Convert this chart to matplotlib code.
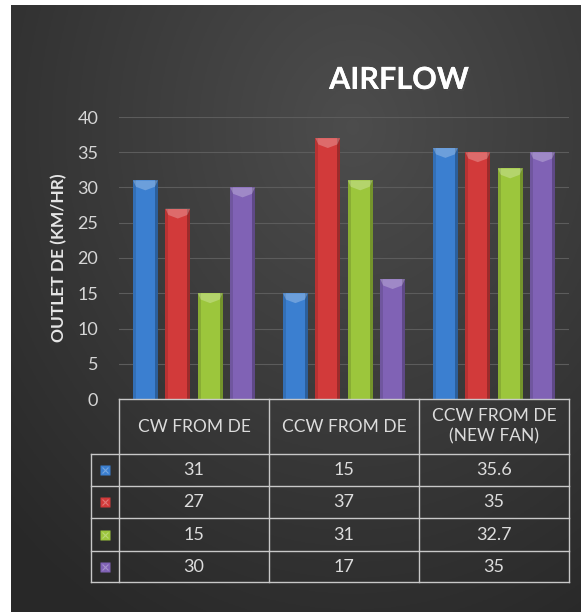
import numpy as np
import matplotlib
matplotlib.use("Agg")
import matplotlib.pyplot as plt
from matplotlib.patches import Polygon
from matplotlib.lines import Line2D
import matplotlib.patheffects as pe

categories = ["CW FROM DE", "CCW FROM DE", "CCW FROM DE\n(NEW FAN)"]
series_values = [
    [31, 15, 35.6],
    [27, 37, 35],
    [15, 31, 32.7],
    [30, 17, 35],
]
cell_text = [
    ["31", "15", "35.6"],
    ["27", "37", "35"],
    ["15", "31", "32.7"],
    ["30", "17", "35"],
]
colors = ["#3b7fd0", "#d23a3a", "#9cc63c", "#8062b5"]
yticks = [0, 5, 10, 15, 20, 25, 30, 35, 40]

W, H = 581, 612
plt.rcParams['font.family'] = ['Lato', 'DejaVu Sans']
fig = plt.figure(figsize=(W / 100, H / 100), dpi=100, facecolor='white')


def fx(px):
    return px / W


def fy(py):
    return 1 - py / H


# dark radial background panel
bg = fig.add_axes([fx(11), 0, 1 - fx(11), 1 - 5 / H])
gx, gy = np.meshgrid(np.linspace(0, 1, 300), np.linspace(0, 1, 300))
r = np.sqrt(((gx - 0.6) / 0.9) ** 2 + ((gy - 0.2) / 1.0) ** 2)
shade = np.clip(0.30 - 0.15 * r, 0.16, 0.30)
bg.imshow(np.dstack([shade, shade, shade]), aspect='auto', extent=(0, 1, 1, 0))
bg.set_axis_off()

# plot area: x 119..569, y 117 (40) .. 399 (0)
ax = fig.add_axes([fx(119), fy(399), fx(569 - 119), (399 - 117) / H])
ax.set_facecolor('none')
ax.set_xlim(0, 3)
ax.set_ylim(0, 40)
for s in ax.spines.values():
    s.set_visible(False)
ax.set_yticks(yticks)
ax.set_yticklabels([str(t) for t in yticks], color='#d6d6d6', fontsize=13)
ax.tick_params(axis='y', length=0, pad=15)
ax.set_xticks([])
ax.grid(axis='y', color='#5c5c5c', lw=0.8)
ax.set_axisbelow(True)

step = 0.216
width = 0.165
for i, vals in enumerate(series_values):
    for j, v in enumerate(vals):
        xc = j + 0.5 + (i - 1.5) * step
        x0, x1 = xc - width / 2, xc + width / 2
        ax.bar(xc, v, width=width, color=colors[i], edgecolor='none', zorder=3)
        # bevel edges
        ax.bar(x0 + width * 0.06, v, width=width * 0.12, color='black', alpha=0.12, zorder=4)
        ax.bar(x1 - width * 0.06, v, width=width * 0.12, color='black', alpha=0.25, zorder=4)
        cap = Polygon([(x0, v), (x1, v), (x1 - width * 0.12, v - 0.9),
                       (xc, v - 1.4), (x0 + width * 0.12, v - 0.9)],
                      closed=True, facecolor='white', alpha=0.25, edgecolor='none', zorder=5)
        ax.add_patch(cap)

ax.set_ylabel("OUTLET DE (KM/HR)", color='#e6e6e6', fontsize=12.5, fontweight='bold', labelpad=7)

fig.text(fx(399), fy(80), "AIRFLOW", ha='center', va='center', color='white',
         fontsize=22, fontweight='bold',
         path_effects=[pe.withSimplePatchShadow(offset=(1.5, -1.5), alpha=0.6), pe.Normal()])

# data table below axis
col_x = [119, 269, 419, 569]
row_y = [399, 454, 486, 518, 551, 582]
lc = '#c8c8c8'
lw = 1.0


def hline(y, xa, xb):
    fig.add_artist(Line2D([fx(xa), fx(xb)], [fy(y), fy(y)], color=lc, lw=lw))


def vline(x, ya, yb):
    fig.add_artist(Line2D([fx(x), fx(x)], [fy(ya), fy(yb)], color=lc, lw=lw))


hline(row_y[0], col_x[0], col_x[-1])
for y in row_y[1:]:
    hline(y, 91, col_x[-1])
for x in col_x:
    vline(x, row_y[0], row_y[-1])
vline(91, row_y[1], row_y[-1])

for j, cat in enumerate(categories):
    cx = (col_x[j] + col_x[j + 1]) / 2
    cy = (row_y[0] + row_y[1]) / 2
    fig.text(fx(cx), fy(cy), cat, ha='center', va='center', color='#dcdcdc',
             fontsize=12.5, linespacing=1.3)

for i, row in enumerate(cell_text):
    cy = (row_y[i + 1] + row_y[i + 2]) / 2
    fig.lines.append(Line2D([fx(105)], [fy(cy)], marker='s', markersize=7,
                            color=colors[i], markeredgecolor='none',
                            transform=fig.transFigure))
    fig.lines.append(Line2D([fx(105)], [fy(cy)], marker='x', markersize=5,
                            color='white', alpha=0.3, markeredgewidth=0.8,
                            transform=fig.transFigure))
    for j, t in enumerate(row):
        cx = (col_x[j] + col_x[j + 1]) / 2
        fig.text(fx(cx), fy(cy), t, ha='center', va='center', color='#dcdcdc', fontsize=13)

fig.savefig("out.png", dpi=100, facecolor='white')
